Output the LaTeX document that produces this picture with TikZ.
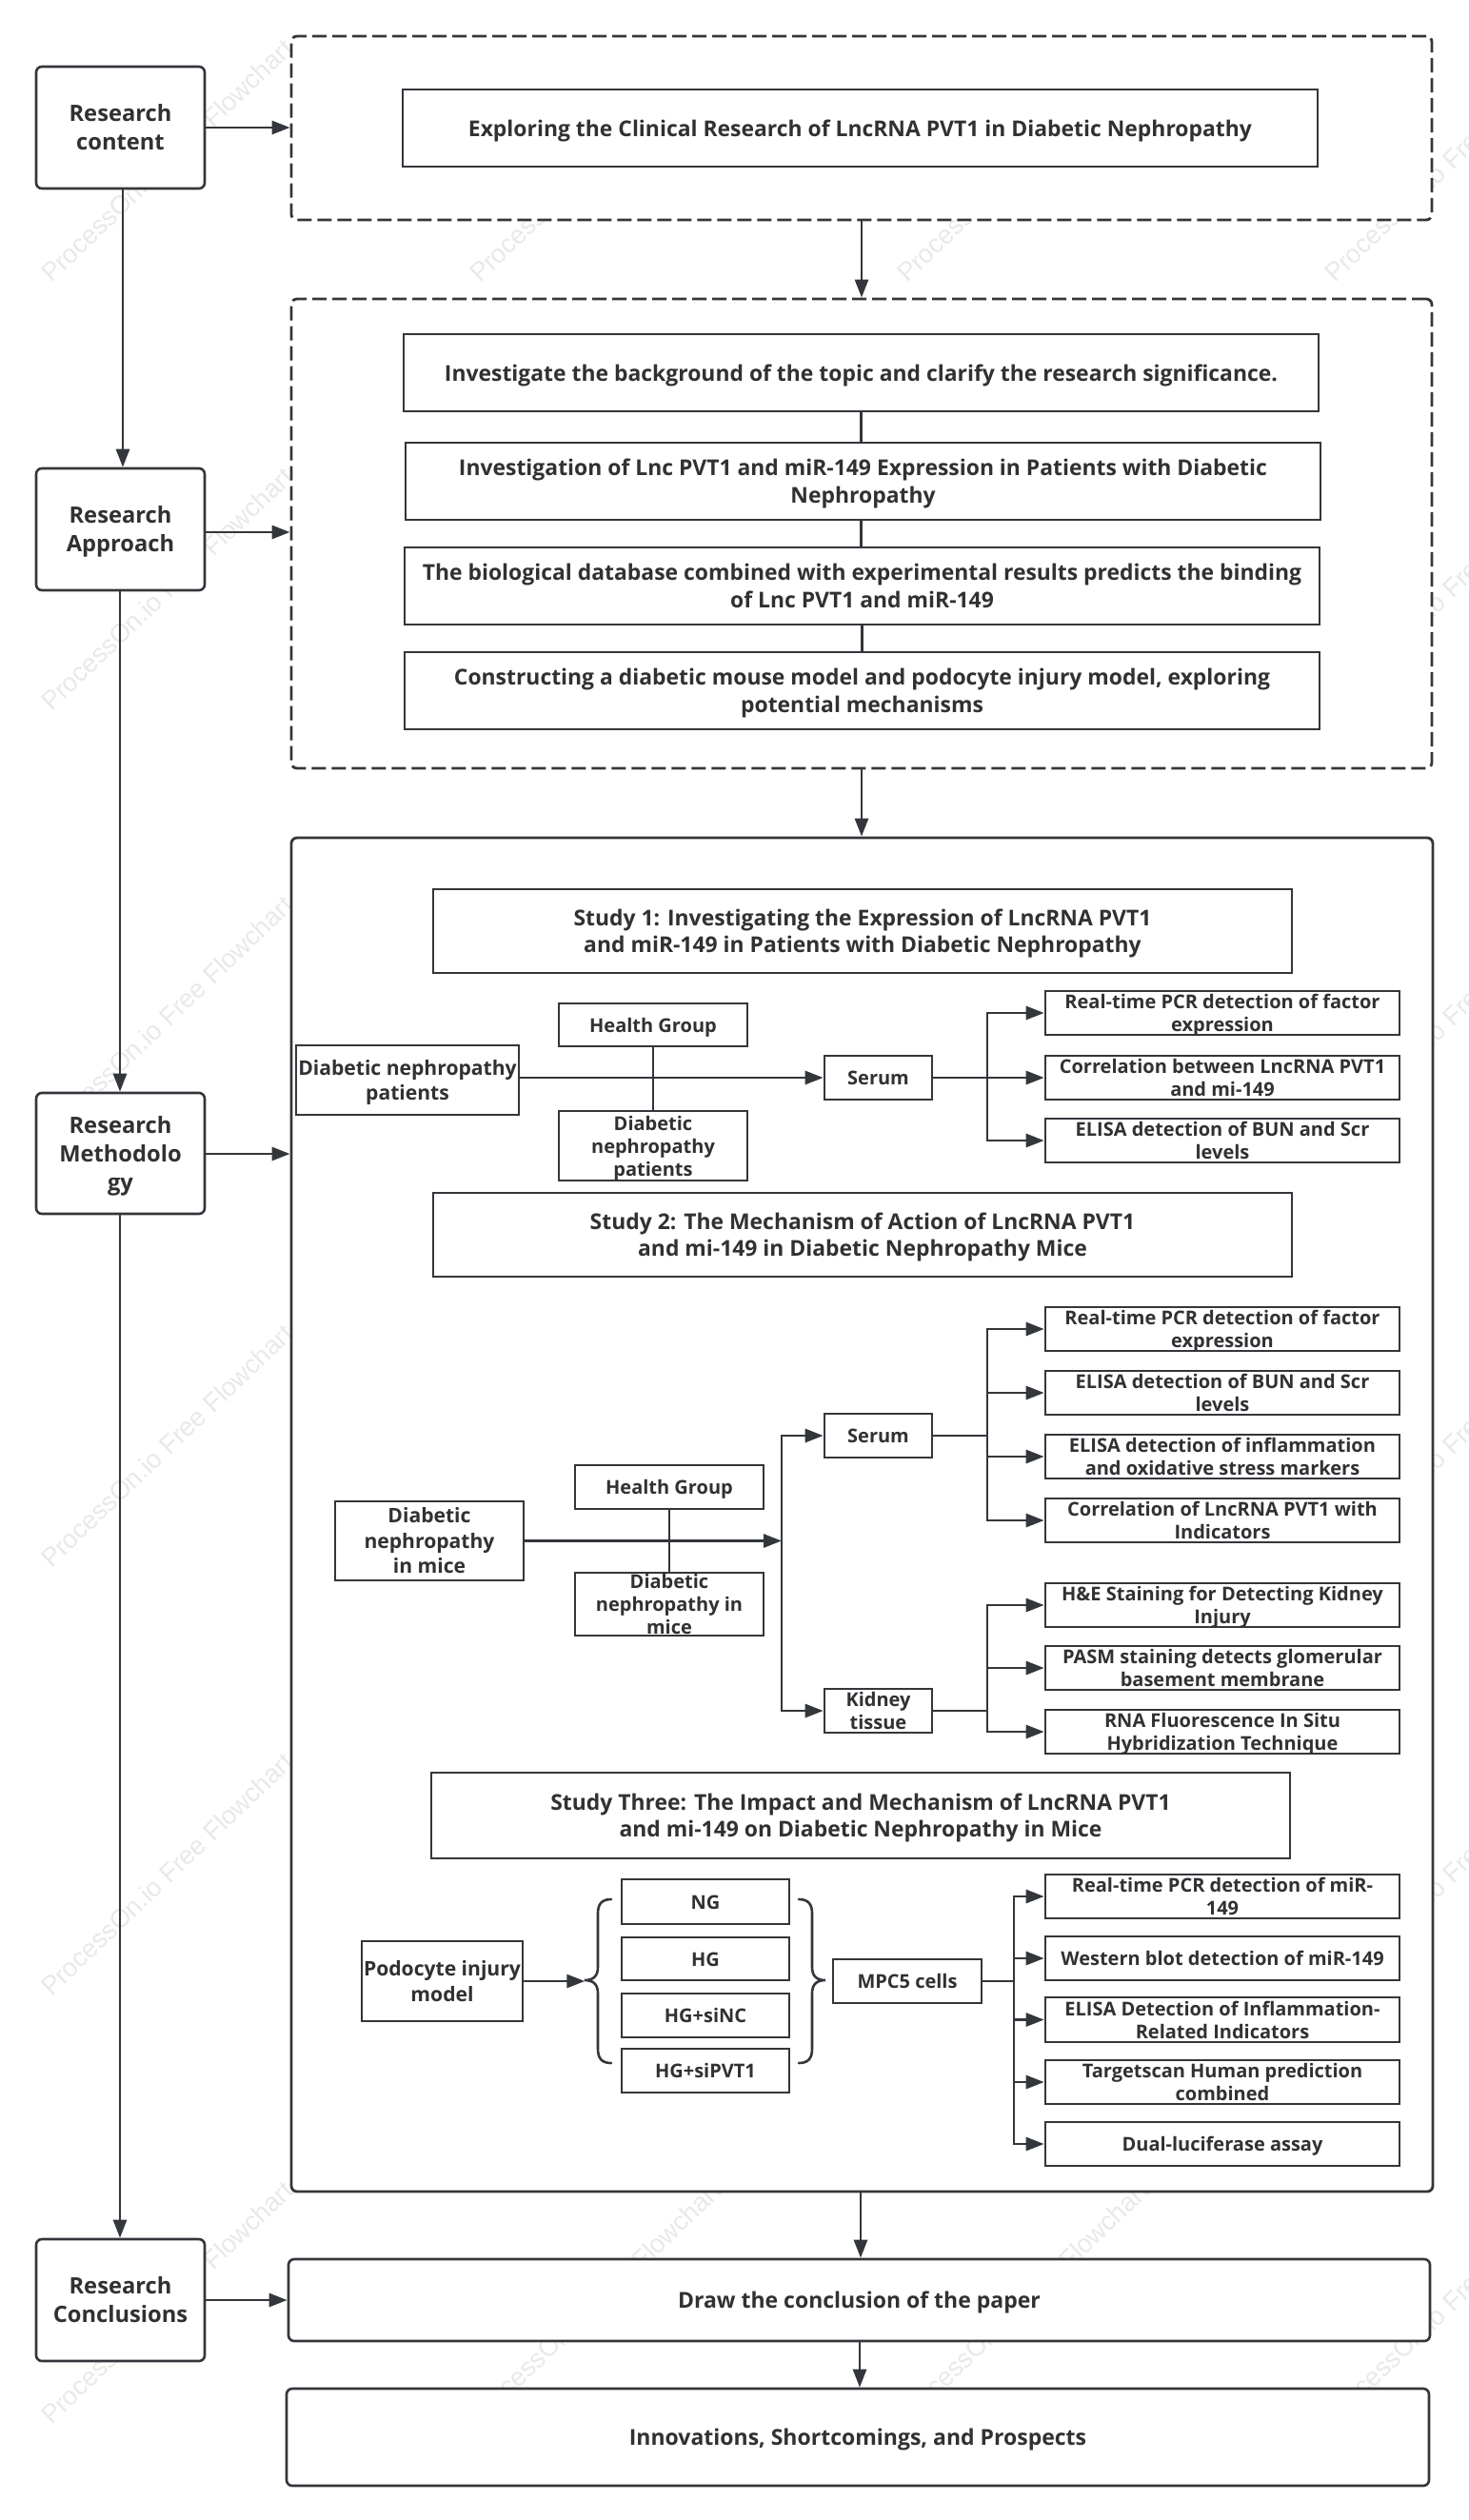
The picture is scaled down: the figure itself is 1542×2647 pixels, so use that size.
\documentclass[tikz,border=0pt]{standalone}
\usepackage{fontspec}
\setmainfont{Open Sans}
\newfontfamily\wmfont{Liberation Sans}
\usetikzlibrary{arrows.meta,calc}
\definecolor{ink}{HTML}{33363B}
\definecolor{txt}{HTML}{303133}
\definecolor{wm}{HTML}{E9E9E9}
\newcommand{\fXL}{\fontsize{22.9}{28.5}\selectfont\bfseries}
\newcommand{\fM}{\fontsize{20}{25.5}\selectfont\bfseries}
\newcommand{\fS}{\fontsize{20}{24}\selectfont\bfseries}
\newcommand{\bxn}[7]{\node[#2,minimum width={(#5)-(#3)},minimum height={(#6)-(#4)}] (#1) at ({((#3)+(#5))/2},{((#4)+(#6))/2}) {\rule{0pt}{1.03em}#7\rule[-0.28em]{0pt}{0.28em}};}
\tikzset{
  basebox/.style={draw=ink,line width=2.6pt,fill=white,inner sep=-25pt,text=txt,align=center},
  plainbox/.style={basebox,font=\fXL},
  rightbox/.style={basebox,font=\fS},
  midbox/.style={basebox,font=\fM},
  widemidbox/.style={basebox,font=\fontsize{21.1}{26.5}\selectfont\bfseries},
  tightbox/.style={basebox,font=\fontsize{20}{24}\selectfont\bfseries},
  sidebox/.style={basebox,rounded corners=6pt,font=\fontsize{23.7}{30}\selectfont\bfseries},
  longbox/.style={basebox,rounded corners=6pt,font=\fontsize{23}{28}\selectfont\bfseries},
  framebox/.style={draw=ink,line width=2.8pt,fill=white,inner sep=-25pt,rounded corners=6pt},
  dashframe/.style={framebox,dash pattern=on 15pt off 6pt},
  arr/.style={draw=ink,line width=2.8pt,-{Triangle[length=19pt,width=14pt]}},
  plainline/.style={draw=ink,line width=2.6pt},
  bracket/.style={draw=ink,line width=2.6pt,line cap=round},
  wmark/.style={font=\wmfont\fontsize{27.3}{30}\selectfont,text=wm,rotate=43.7,anchor=base west,inner sep=0pt}
}
\begin{document}
\begin{tikzpicture}[x=1pt,y=-1pt]
\useasboundingbox (0,0) rectangle (1542,2647);
\fill[white] (0,0) rectangle (1542,2647);
\begin{scope}
\clip (0,0) rectangle (1542,2647);
\foreach \wx in {54,504,953,1402}
  \foreach \wy in {298,748,1198,1648,2098,2548}
    \node[wmark] (wm-\wx-\wy) at (\wx,\wy) {ProcessOn.io Free Flowchart};
\end{scope}

% side column
\bxn{rc}{sidebox}{38}{70}{215}{198}{Research\\content}
\bxn{ra}{sidebox}{38}{492}{215}{620}{Research\\Approach}
\bxn{rm}{sidebox}{38}{1148}{215}{1275}{Research\\Methodolo\\gy}
\bxn{rk}{sidebox}{38}{2352}{215}{2480}{Research\\Conclusions}

% frames
\bxn{d1}{dashframe}{306}{38}{1504}{231}{}
\bxn{d2}{dashframe}{306}{314}{1504}{807}{}
\bxn{big}{framebox}{306}{880}{1505}{2302}{}
\bxn{concl}{longbox}{303}{2373}{1502}{2459}{Draw the conclusion of the paper}
\bxn{innov}{longbox}{301}{2509}{1501}{2611}{Innovations, Shortcomings, and Prospects}

% top boxes
\bxn{t1}{plainbox}{423}{94}{1384}{175}{Exploring the Clinical Research of LncRNA PVT1 in Diabetic Nephropathy}
\bxn{a1}{plainbox}{424}{351}{1385}{432}{Investigate the background of the topic and clarify the research significance.}
\bxn{a2}{plainbox}{426}{465}{1387}{546}{Investigation of Lnc PVT1 and miR-149 Expression in Patients with Diabetic\\Nephropathy}
\bxn{a3}{plainbox}{425}{575}{1386}{656}{The biological database combined with experimental results predicts the binding\\of Lnc PVT1 and miR-149}
\bxn{a4}{plainbox}{425}{685}{1386}{766}{Constructing a diabetic mouse model and podocyte injury model, exploring\\potential mechanisms}

% study 1
\bxn{s1}{plainbox}{455}{934}{1357}{1022}{Study 1: Investigating the Expression of LncRNA PVT1\\and miR-149 in Patients with Diabetic Nephropathy}
\bxn{p1}{widemidbox}{311}{1098}{545}{1171}{Diabetic nephropathy\\patients}
\bxn{h1}{midbox}{587}{1054}{785}{1099}{Health Group}
\bxn{q1}{tightbox}{587}{1167}{785}{1240}{Diabetic\\nephropathy\\patients}
\bxn{se1}{midbox}{866}{1109}{979}{1155}{Serum}
\bxn{r11}{rightbox}{1098}{1041}{1470}{1087}{Real-time PCR detection of factor\\expression}
\bxn{r12}{rightbox}{1098}{1109}{1470}{1155}{Correlation between LncRNA PVT1\\and mi-149}
\bxn{r13}{rightbox}{1098}{1175}{1470}{1221}{ELISA detection of BUN and Scr\\levels}

% study 2
\bxn{s2}{plainbox}{455}{1253}{1357}{1341}{Study 2: The Mechanism of Action of LncRNA PVT1\\and mi-149 in Diabetic Nephropathy Mice}
\bxn{p2}{widemidbox}{352}{1577}{550}{1660}{Diabetic\\nephropathy\\in mice}
\bxn{h2}{midbox}{604}{1539}{802}{1585}{Health Group}
\bxn{q2}{tightbox}{604}{1652}{802}{1718}{Diabetic\\nephropathy in\\mice}
\bxn{se2}{midbox}{866}{1485}{979}{1531}{Serum}
\bxn{ki}{tightbox}{866}{1774}{979}{1820}{Kidney\\tissue}
\bxn{r21}{rightbox}{1098}{1373}{1470}{1419}{Real-time PCR detection of factor\\expression}
\bxn{r22}{rightbox}{1098}{1440}{1470}{1486}{ELISA detection of BUN and Scr\\levels}
\bxn{r23}{rightbox}{1098}{1507}{1470}{1553}{ELISA detection of inflammation\\and oxidative stress markers}
\bxn{r24}{rightbox}{1098}{1574}{1470}{1620}{Correlation of LncRNA PVT1 with\\Indicators}
\bxn{r25}{rightbox}{1098}{1663}{1470}{1709}{H\&E Staining for Detecting Kidney\\Injury}
\bxn{r26}{rightbox}{1098}{1729}{1470}{1775}{PASM staining detects glomerular\\basement membrane}
\bxn{r27}{rightbox}{1098}{1796}{1470}{1842}{RNA Fluorescence In Situ\\Hybridization Technique}

% study 3
\bxn{s3}{plainbox}{453}{1862}{1355}{1952}{Study Three: The Impact and Mechanism of LncRNA PVT1\\and mi-149 on Diabetic Nephropathy in Mice}
\bxn{p3}{widemidbox}{380}{2039}{549}{2123}{Podocyte injury\\model}
\bxn{g1}{midbox}{653}{1974}{829}{2021}{NG}
\bxn{g2}{midbox}{653}{2035}{829}{2080}{HG}
\bxn{g3}{midbox}{653}{2094}{829}{2140}{HG+siNC}
\bxn{g4}{midbox}{653}{2152}{829}{2198}{HG+siPVT1}
\bxn{mp}{midbox}{875}{2058}{1031}{2104}{MPC5 cells}
\bxn{r31}{rightbox}{1098}{1969}{1470}{2015}{Real-time PCR detection of miR-\\149}
\bxn{r32}{rightbox}{1098}{2034}{1470}{2080}{Western blot detection of miR-149}
\bxn{r33}{rightbox}{1098}{2098}{1470}{2145}{ELISA Detection of Inflammation-\\Related Indicators}
\bxn{r34}{rightbox}{1098}{2164}{1470}{2210}{Targetscan Human prediction\\combined}
\bxn{r35}{rightbox}{1098}{2229}{1470}{2275}{Dual-luciferase assay}

% guide coordinates
\coordinate (v1) at (129,0);
\coordinate (v2) at (126,0);
\coordinate (raY) at (0,559);
\coordinate (rmY) at (0,1212);
\coordinate (rkY) at (0,2416);
\coordinate (b1) at (1037,0);
\coordinate (b2) at (821,0);
\coordinate (b3) at (1065,0);
\coordinate (mid) at (905,0);
\coordinate (mid2) at (904,0);
\coordinate (mid3) at (903,0);

% side connectors
\draw[arr] (v1 |- rc.south) -- (v1 |- ra.north);
\draw[arr] (v2 |- ra.south) -- (v2 |- rm.north);
\draw[arr] (v2 |- rm.south) -- (v2 |- rk.north);
\draw[arr] (rc.east) -- (rc.east -| d1.west);
\draw[arr] (ra.east |- raY) -- (d2.west |- raY);
\draw[arr] (rm.east |- rmY) -- (big.west |- rmY);
\draw[arr] (rk.east |- rkY) -- (concl.west |- rkY);

% main column
\draw[arr] (mid |- d1.south) -- (mid |- d2.north);
\draw[arr] (mid |- d2.south) -- (mid |- big.north);
\draw[arr] (mid2 |- big.south) -- (mid2 |- concl.north);
\draw[arr] (mid3 |- concl.south) -- (mid3 |- innov.north);
\draw[plainline] (a1.south) -- (a1.south |- a2.north);
\draw[plainline] (a1.south |- a2.south) -- (a1.south |- a3.north);
\draw[plainline] (a3.south) -- (a4.north);

% study 1 connectors
\draw[plainline] (h1.south) -- (q1.north);
\draw[arr] (p1.east |- se1.west) -- (se1.west);
\draw[plainline] (se1.east) -- (b1 |- se1.east);
\draw[arr] (b1 |- se1.east) |- (r11.west);
\draw[arr] (b1 |- se1.east) -- (r12.west);
\draw[arr] (b1 |- se1.east) |- (r13.west);

% study 2 connectors
\draw[plainline] (h2.south) -- (q2.north);
\draw[arr] (p2.east) -- (b2 |- p2.east);
\draw[arr] (b2 |- p2.east) |- (se2.west);
\draw[arr] (b2 |- p2.east) |- (ki.west);
\draw[plainline] (se2.east) -- (b1 |- se2.east);
\draw[arr] (b1 |- se2.east) |- (r21.west);
\draw[arr] (b1 |- se2.east) |- (r22.west);
\draw[arr] (b1 |- se2.east) |- (r23.west);
\draw[arr] (b1 |- se2.east) |- (r24.west);
\draw[plainline] (ki.east) -- (b1 |- ki.east);
\draw[arr] (b1 |- ki.east) |- (r25.west);
\draw[arr] (b1 |- ki.east) |- (r26.west);
\draw[arr] (b1 |- ki.east) |- (r27.west);

% study 3 connectors
\draw[arr] (p3.east) -- ++(64,0);
\draw[bracket] (642,1995) .. controls (632,1995) and (628,2000) .. (628,2010) -- (628,2066) .. controls (628,2075) and (624,2080) .. (614,2080) .. controls (624,2080) and (628,2085) .. (628,2094) -- (628,2152) .. controls (628,2162) and (632,2167) .. (642,2167);
\draw[bracket] (839,1995) .. controls (849,1995) and (853,2000) .. (853,2010) -- (853,2066) .. controls (853,2075) and (857,2080) .. (867,2080) .. controls (857,2080) and (853,2085) .. (853,2094) -- (853,2152) .. controls (853,2162) and (849,2167) .. (839,2167);
\draw[plainline] (mp.east) -- (b3 |- mp.east);
\draw[arr] (b3 |- mp.east) |- (r31.west);
\draw[arr] (b3 |- mp.east) |- (r32.west);
\draw[arr] (b3 |- mp.east) |- (r33.west);
\draw[arr] (b3 |- mp.east) |- (r34.west);
\draw[arr] (b3 |- mp.east) |- (r35.west);
\end{tikzpicture}
\end{document}
